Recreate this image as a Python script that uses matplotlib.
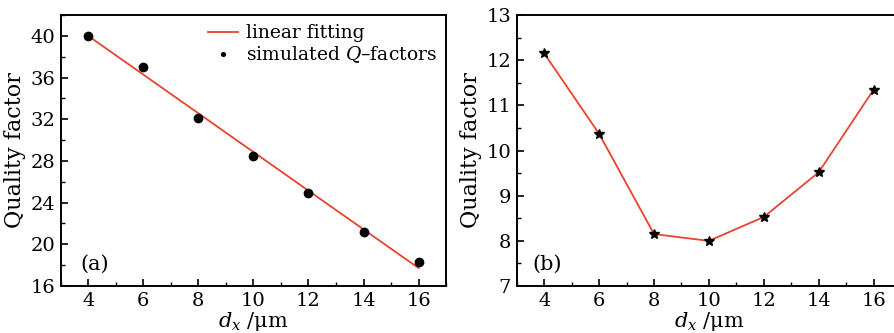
import matplotlib
matplotlib.use("Agg")
import matplotlib.pyplot as plt
from matplotlib.ticker import MultipleLocator
import numpy as np

# ── data ──────────────────────────────────────────────
dx = [4, 6, 8, 10, 12, 14, 16]
q_sim_a = [40.0, 37.0, 32.1, 28.5, 24.9, 21.2, 18.3]
q_b = [12.15, 10.37, 8.15, 8.0, 8.53, 9.52, 11.35]

RED = "#e8432e"
plt.rcParams["font.family"] = ["DejaVu Serif"]
plt.rcParams["mathtext.fontset"] = "dejavuserif"

fig = plt.figure(figsize=(8.94, 3.33), dpi=100)
ax1 = fig.add_axes([0.068, 0.141, 0.431, 0.814])
ax2 = fig.add_axes([0.578, 0.141, 0.430, 0.814])


def style(ax):
    for s in ax.spines.values():
        s.set_linewidth(1.4)
    ax.tick_params(which="major", direction="in", length=5, width=1.2,
                   labelsize=14, top=False, right=False, pad=4)
    ax.tick_params(which="minor", direction="in", length=3, width=1.0,
                   top=False, right=False)
    ax.xaxis.set_major_locator(MultipleLocator(2))
    ax.xaxis.set_minor_locator(MultipleLocator(1))
    ax.set_xlim(3, 17)
    ax.set_xlabel(r"$d_x$ /μm", fontsize=15, labelpad=0)
    ax.set_ylabel("Quality factor", fontsize=16, labelpad=3)


# (a) linear fit
coef = np.polyfit(dx, q_sim_a, 1)
xf = np.array([dx[0], dx[-1]])
ax1.plot(xf, np.polyval(coef, xf), color=RED, lw=1.3, label="linear fitting")
ax1.plot(dx, q_sim_a, "o", color="black", ms=6, ls="none",
         label=r"simulated $Q$–factors")
style(ax1)
ax1.set_ylim(16, 42)
ax1.yaxis.set_major_locator(MultipleLocator(4))
ax1.yaxis.set_minor_locator(MultipleLocator(2))
leg = ax1.legend(loc="upper right", frameon=False, fontsize=13.5,
                 handlelength=1.6, handletextpad=0.4, borderaxespad=0.1,
                 labelspacing=0.1, markerscale=0.45)
ax1.text(0.05, 0.06, "(a)", transform=ax1.transAxes, fontsize=15)

# (b)
ax2.plot(dx, q_b, color=RED, lw=1.3)
ax2.plot(dx, q_b, "*", color="black", ms=7, ls="none")
style(ax2)
ax2.set_ylim(7, 13)
ax2.yaxis.set_major_locator(MultipleLocator(1))
ax2.yaxis.set_minor_locator(MultipleLocator(0.5))
ax2.text(0.04, 0.06, "(b)", transform=ax2.transAxes, fontsize=15)

fig.savefig("out.png", dpi=100, facecolor="white")
